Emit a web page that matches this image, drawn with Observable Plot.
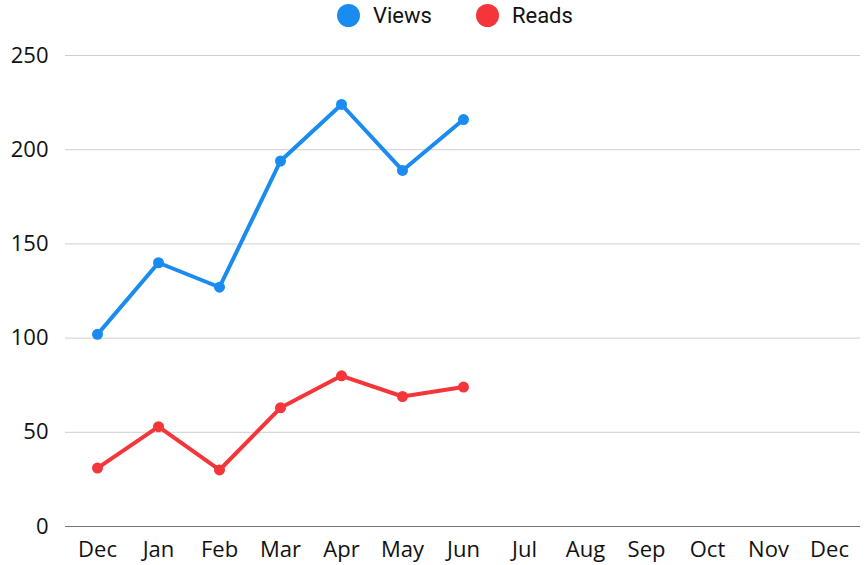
<!DOCTYPE html>
<html>
<head>
<meta charset="utf-8">
<script src="https://cdn.jsdelivr.net/npm/d3@7"></script>
<script src="https://cdn.jsdelivr.net/npm/@observablehq/plot@0.6"></script>
<style>
  html, body { margin: 0; padding: 0; background: #fff; }
  #legend { height: 30px; display: flex; justify-content: flex-start; align-items: center; padding-left: 337px; font-family: Roboto, "Noto Sans", sans-serif; font-size: 22px; color: #111; }
  .item { display: flex; align-items: center; }
  .sw { width: 23px; height: 23px; border-radius: 50%; display: inline-block; margin-right: 13px; }
  #chart svg { display: block; }
</style>
</head>
<body>
<div id="legend"></div>
<div id="chart"></div>
<script>
const months = ["Dec","Jan","Feb","Mar","Apr","May","Jun","Jul","Aug","Sep","Oct","Nov","Dec"];
const views = [102, 140, 127, 194, 224, 189, 216];
const reads = [31, 53, 30, 63, 80, 69, 74];
const seriesNames = ["Views", "Reads"];
const seriesColors = ["#1a8cf0", "#f4353a"];
const yTicks = [0, 50, 100, 150, 200, 250];

const rows = [];
views.forEach((v, i) => rows.push({series: "Views", i, value: v}));
reads.forEach((v, i) => rows.push({series: "Reads", i, value: v}));

// legend
const legend = document.getElementById("legend");
seriesNames.forEach((n, k) => {
  const it = document.createElement("span");
  it.className = "item";
  it.style.marginRight = k === 0 ? "44px" : "0";
  it.innerHTML = `<span class="sw" style="background:${seriesColors[k]}"></span><span>${n}</span>`;
  legend.appendChild(it);
});

const chart = Plot.plot({
  width: 866,
  height: 535,
  marginLeft: 65,
  marginRight: 6,
  marginTop: 25,
  marginBottom: 39,
  style: { fontFamily: "'Open Sans', Inter, sans-serif", fontSize: "22px", color: "#111" },
  x: { type: "point", domain: d3.range(months.length), padding: 0.5, tickFormat: i => months[i], label: null },
  y: { domain: [0, 250], label: null },
  color: { domain: seriesNames, range: seriesColors },
  marks: [
    Plot.gridY(yTicks.filter(d => d > 0), { stroke: "#cfcfcf", strokeOpacity: 1, strokeWidth: 1 }),
    Plot.ruleY([0], { stroke: "#777", strokeWidth: 1.2 }),
    Plot.axisY(yTicks, { tickSize: 0, tickPadding: 17, fontSize: 22, label: null }),
    Plot.axisX(d3.range(months.length), { tickSize: 0, tickPadding: 15, fontSize: 22, label: null, tickFormat: i => months[i] }),
    Plot.line(rows, { x: "i", y: "value", z: "series", stroke: "series", strokeWidth: 4 }),
    Plot.dot(rows, { x: "i", y: "value", fill: "series", r: 5.5 })
  ]
});
document.getElementById("chart").appendChild(chart);
</script>
</body>
</html>
